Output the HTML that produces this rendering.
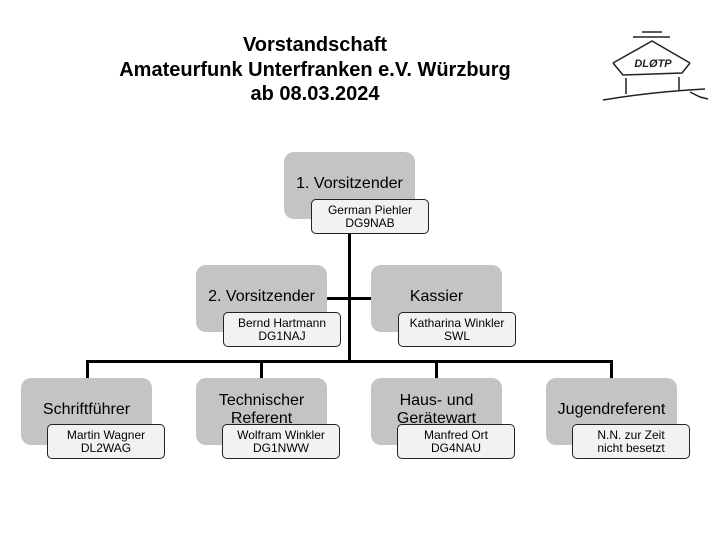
<!DOCTYPE html>
<html><head><style>
body{margin:0;width:720px;height:540px;background:#fff;font-family:"Liberation Sans",sans-serif;position:relative;overflow:hidden}
.t{position:absolute;left:0;width:630px;text-align:center;font-weight:bold;font-size:20px;line-height:24.5px;top:33px;color:#000}
.g{position:absolute;width:131px;height:67px;background:#c4c4c4;border-radius:10px;font-size:16px;line-height:18px;display:flex;align-items:center;justify-content:center;text-align:center}
.g span{display:block;margin-top:-4px}
.n{position:absolute;width:116px;height:33px;background:#f2f2f2;border:1px solid #222;border-radius:5px;font-size:12px;line-height:13px;text-align:center;display:flex;align-items:center;justify-content:center}
.l{position:absolute;background:#000}
</style></head><body>
<div class="t">Vorstandschaft<br>Amateurfunk Unterfranken e.V. Würzburg<br>ab 08.03.2024</div>
<svg style="position:absolute;left:0;top:0" width="720" height="120" fill="none" stroke="#222" stroke-width="1.5">
<path d="M642 32 L662 32 M633 37 L670 37"/>
<path d="M613 63 L652 41 L690 63 M613 63 L623 75 L682 73 L690 63"/>
<path d="M626 78 L626 94 M679 77 L679 90"/>
<path d="M603 100 Q650 92 705 89 M690 92 L700 97 L708 99"/>
<text x="653" y="67" text-anchor="middle" font-size="11" font-style="italic" font-weight="bold" fill="#222" stroke="none" font-family="Liberation Sans">DLØTP</text>
</svg>
<div class="l" style="left:348px;top:232px;width:3px;height:129px"></div>
<div class="l" style="left:327px;top:297px;width:44px;height:3px"></div>
<div class="l" style="left:86px;top:360px;width:527px;height:3px"></div>
<div class="l" style="left:86px;top:360px;width:3px;height:18px"></div>
<div class="l" style="left:260px;top:360px;width:3px;height:18px"></div>
<div class="l" style="left:435px;top:360px;width:3px;height:18px"></div>
<div class="l" style="left:610px;top:360px;width:3px;height:18px"></div>

<div class="g" style="left:284px;top:152px"><span>1. Vorsitzender</span></div>
<div class="n" style="left:311px;top:199px">German Piehler<br>DG9NAB</div>
<div class="g" style="left:196px;top:265px"><span>2. Vorsitzender</span></div>
<div class="n" style="left:223px;top:312px">Bernd Hartmann<br>DG1NAJ</div>
<div class="g" style="left:371px;top:265px"><span>Kassier</span></div>
<div class="n" style="left:398px;top:312px">Katharina Winkler<br>SWL</div>

<div class="g" style="left:21px;top:378px"><span>Schriftführer</span></div>
<div class="n" style="left:47px;top:424px">Martin Wagner<br>DL2WAG</div>
<div class="g" style="left:196px;top:378px"><span>Technischer<br>Referent</span></div>
<div class="n" style="left:222px;top:424px">Wolfram Winkler<br>DG1NWW</div>
<div class="g" style="left:371px;top:378px"><span>Haus- und<br>Gerätewart</span></div>
<div class="n" style="left:397px;top:424px">Manfred Ort<br>DG4NAU</div>
<div class="g" style="left:546px;top:378px"><span>Jugendreferent</span></div>
<div class="n" style="left:572px;top:424px">N.N. zur Zeit<br>nicht besetzt</div>
</body></html>
